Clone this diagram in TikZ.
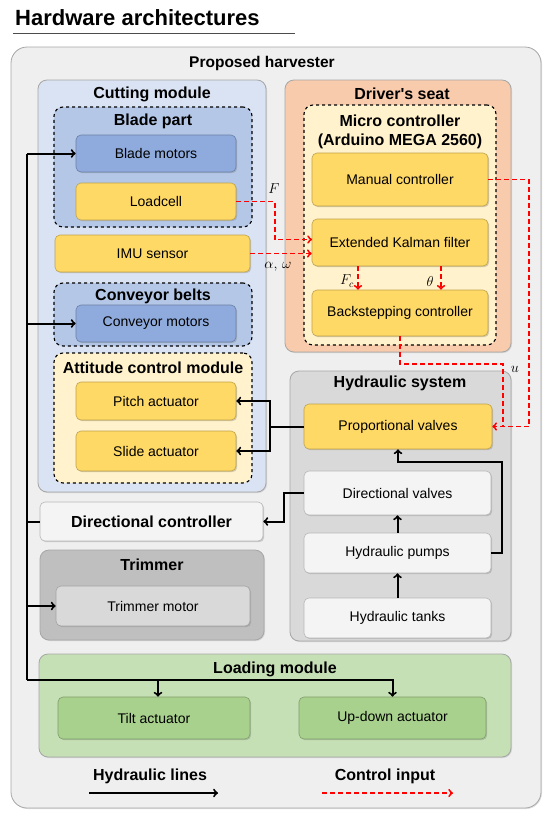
\documentclass[tikz,border=0pt]{standalone}
\usepackage{fontspec}
\setmainfont{Liberation Sans}[Ligatures=TeXOff]
\usetikzlibrary{calc,shadows}

\definecolor{cOut}{HTML}{EFEFEF}
\definecolor{cCut}{HTML}{DAE3F3}
\definecolor{cBlade}{HTML}{B4C7E7}
\definecolor{cMot}{HTML}{8FAADC}
\definecolor{cYel}{HTML}{FFD966}
\definecolor{cPale}{HTML}{FFF2CC}
\definecolor{cSeat}{HTML}{F8CBAD}
\definecolor{cHyd}{HTML}{D9D9D9}
\definecolor{cWht}{HTML}{F4F4F4}
\definecolor{cTrim}{HTML}{BFBFBF}
\definecolor{cLoad}{HTML}{C5E0B4}
\definecolor{cTilt}{HTML}{A9D18E}
\definecolor{cRed}{HTML}{FF0000}

\tikzset{
  grp/.style={fill=#1, draw=black!35, line width=0.8pt, rounded corners=9pt,
    drop shadow={shadow xshift=1pt, shadow yshift=-1pt, opacity=.25}},
  dgrp/.style={fill=#1, draw=black, dashed, line width=1.1pt, rounded corners=9pt},
  unit/.style={fill=#1, draw=#1!75!black, line width=0.6pt, rounded corners=5pt,
    font=\fontsize{14}{16}\selectfont,
    drop shadow={shadow xshift=1.2pt, shadow yshift=-1.2pt, opacity=.35}},
  ttl/.style={font=\fontsize{16}{19}\selectfont\bfseries, align=center},
  hyd/.style={draw=black, line width=2pt},
  ctl/.style={draw=cRed, dash pattern=on 5pt off 3pt, line width=1.9pt},
  lbl/.style={font=\fontsize{14}{16}\selectfont}
}

\begin{document}
\begin{tikzpicture}[x=1pt, y=-1pt]
  \useasboundingbox (0,0) rectangle (550,814);

  % heading
  \node[font=\fontsize{22}{26}\selectfont\bfseries, anchor=base west, inner sep=0pt] (head) at (15,25) {Hardware architectures};
  \draw[black!70, line width=1pt] (13,33) -- (295,33);

  % whole machine
  \node[grp=cOut, minimum width=530pt, minimum height=761pt, rounded corners=16pt] (hv) at (276,427.5) {};
  \node[ttl, font=\fontsize{15.5}{18}\selectfont\bfseries] (hvT) at (262,63) {Proposed harvester};

  % cutting module
  \node[grp=cCut, minimum width=228pt, minimum height=412pt] (cut) at (152,286) {};
  \node[ttl] (cutT) at (152,94) {Cutting module};
  \node[dgrp=cBlade, minimum width=198pt, minimum height=120pt] (blade) at (153,167) {};
  \node[ttl] (bladeT) at (153,121) {Blade part};
  \node[unit=cMot, minimum width=160pt, minimum height=37pt] (bmot) at (156,153.5) {Blade motors};
  \node[unit=cYel, minimum width=160pt, minimum height=37pt] (load) at (156,201.5) {Loadcell};
  \node[unit=cYel, minimum width=195pt, minimum height=37pt] (imu) at (152.5,253.5) {IMU sensor};
  \node[dgrp=cBlade, minimum width=198pt, minimum height=63pt] (conv) at (153,314.5) {};
  \node[ttl] (convT) at (153,296) {Conveyor belts};
  \node[unit=cMot, minimum width=160pt, minimum height=37pt] (cmot) at (156,323.5) {Conveyor motors};
  \node[dgrp=cPale, minimum width=198pt, minimum height=130pt] (att) at (153,418) {};
  \node[ttl] (attT) at (153,368) {Attitude control module};
  \node[unit=cYel, minimum width=160pt, minimum height=38pt] (pitch) at (156,401) {Pitch actuator};
  \node[unit=cYel, minimum width=160pt, minimum height=40pt] (slide) at (156,451) {Slide actuator};

  % driver's seat
  \node[grp=cSeat, minimum width=226pt, minimum height=272pt] (seat) at (398,216) {};
  \node[ttl] (seatT) at (402,94) {Driver's seat};
  \node[dgrp=cPale, minimum width=192pt, minimum height=240pt] (mcu) at (400,225) {};
  \node[ttl] (mcuT) at (400,132) {Micro controller\\(Arduino MEGA 2560)};
  \node[unit=cYel, minimum width=176pt, minimum height=53pt] (man) at (400,179.5) {Manual controller};
  \node[unit=cYel, minimum width=176pt, minimum height=47pt] (ekf) at (400,242.5) {Extended Kalman filter};
  \node[unit=cYel, minimum width=176pt, minimum height=46pt] (back) at (400,313) {Backstepping controller};

  % hydraulic system
  \node[grp=cHyd, minimum width=221pt, minimum height=270pt] (hsys) at (400.5,506) {};
  \node[ttl] (hsysT) at (400,383) {Hydraulic system};
  \node[unit=cYel, minimum width=188pt, minimum height=45pt] (prop) at (398,426.5) {Proportional valves};
  \node[unit=cWht, minimum width=187pt, minimum height=44pt] (dval) at (397.5,493) {Directional valves};
  \node[unit=cWht, minimum width=187pt, minimum height=40pt] (pump) at (397.5,553) {Hydraulic pumps};
  \node[unit=cWht, minimum width=187pt, minimum height=40pt] (tank) at (397.5,618) {Hydraulic tanks};

  % directional controller and trimmer
  \node[unit=cWht, ttl, minimum width=223pt, minimum height=39pt] (dctl) at (151.5,521.5) {Directional controller};
  \node[grp=cTrim, minimum width=224pt, minimum height=90pt] (trim) at (152,595) {};
  \node[ttl] (trimT) at (152,565) {Trimmer};
  \node[unit=cHyd, minimum width=194pt, minimum height=40pt] (tmot) at (153,606) {Trimmer motor};

  % loading module
  \node[grp=cLoad, minimum width=472pt, minimum height=103pt] (ldm) at (275,705.5) {};
  \node[ttl] (ldmT) at (275,669) {Loading module};
  \node[unit=cTilt, minimum width=192pt, minimum height=42pt] (tilt) at (154,718) {Tilt actuator};
  \node[unit=cTilt, minimum width=187pt, minimum height=42pt] (updn) at (392.5,718) {Up-down actuator};

  % hydraulic lines
  \coordinate (busT) at (27,153.5);
  \coordinate (busB) at (27,680);
  \coordinate (tJ) at (158,680);
  \coordinate (split) at (270,426.5);
  \coordinate (dJ) at (284,493);
  \coordinate (pj) at (502,462);
  \draw[hyd] (busT) -- (busB);
  \draw[hyd, ->] (busT) -- (bmot.west);
  \draw[hyd, ->] (cmot.west -| busB) -- (cmot.west);
  \draw[hyd, ->] (tmot.west -| busB) -- (tmot.west);
  \draw[hyd] (dctl.west) -- (dctl.west -| busB);
  \draw[hyd, ->] (busB) -| (updn.north);
  \draw[hyd, ->] (tJ) -- (tJ |- tilt.north);
  \draw[hyd] (prop.west) -- (split);
  \draw[hyd, ->] (split) |- (pitch.east);
  \draw[hyd, ->] (split) |- (slide.east);
  \draw[hyd, ->] (dval.west) -- (dJ) |- (dctl.east);
  \draw[hyd, ->] (pump.east) -| (pj) -| (prop.south);
  \draw[hyd, ->] (pump.north) -- (dval.south);
  \draw[hyd, ->] (tank.north) -- (pump.south);

  % control inputs
  \coordinate (fK) at (275,201.5);
  \coordinate (ekfF) at (312,239.5);
  \coordinate (mR) at (529,179.5);
  \coordinate (uJ) at (503,364);
  \draw[ctl, ->] (load.east) -- (fK) |- (ekfF);
  \node[lbl] (fLbl) at (274,189) {$F$};
  \draw[ctl, ->] (imu.east) -- (imu.east -| ekf.west);
  \node[lbl] (awLbl) at (278,267) {$\alpha,\,\omega$};
  \draw[ctl, ->] ($(ekf.south)+(-42,0)$) -- ($(back.north)+(-42,0)$);
  \node[lbl] (fcLbl) at (347,281) {$F_c$};
  \draw[ctl, ->] ($(ekf.south)+(41,0)$) -- ($(back.north)+(41,0)$);
  \node[lbl] (thLbl) at (430,281) {$\theta$};
  \draw[ctl, ->] (man.east) -- (mR) |- (prop.east);
  \draw[ctl] (back.south) |- (uJ) -- (uJ |- prop.east);
  \node[lbl] (uLbl) at (515,369) {$u$};

  % legend
  \node[ttl] (legH) at (150,776) {Hydraulic lines};
  \coordinate (legHa) at (89,793);
  \coordinate (legHb) at (218,793);
  \draw[hyd, ->] (legHa) -- (legHb);
  \node[ttl] (legC) at (385,776) {Control input};
  \coordinate (legCa) at (322,793);
  \coordinate (legCb) at (453,793);
  \draw[ctl, ->] (legCa) -- (legCb);
\end{tikzpicture}
\end{document}
